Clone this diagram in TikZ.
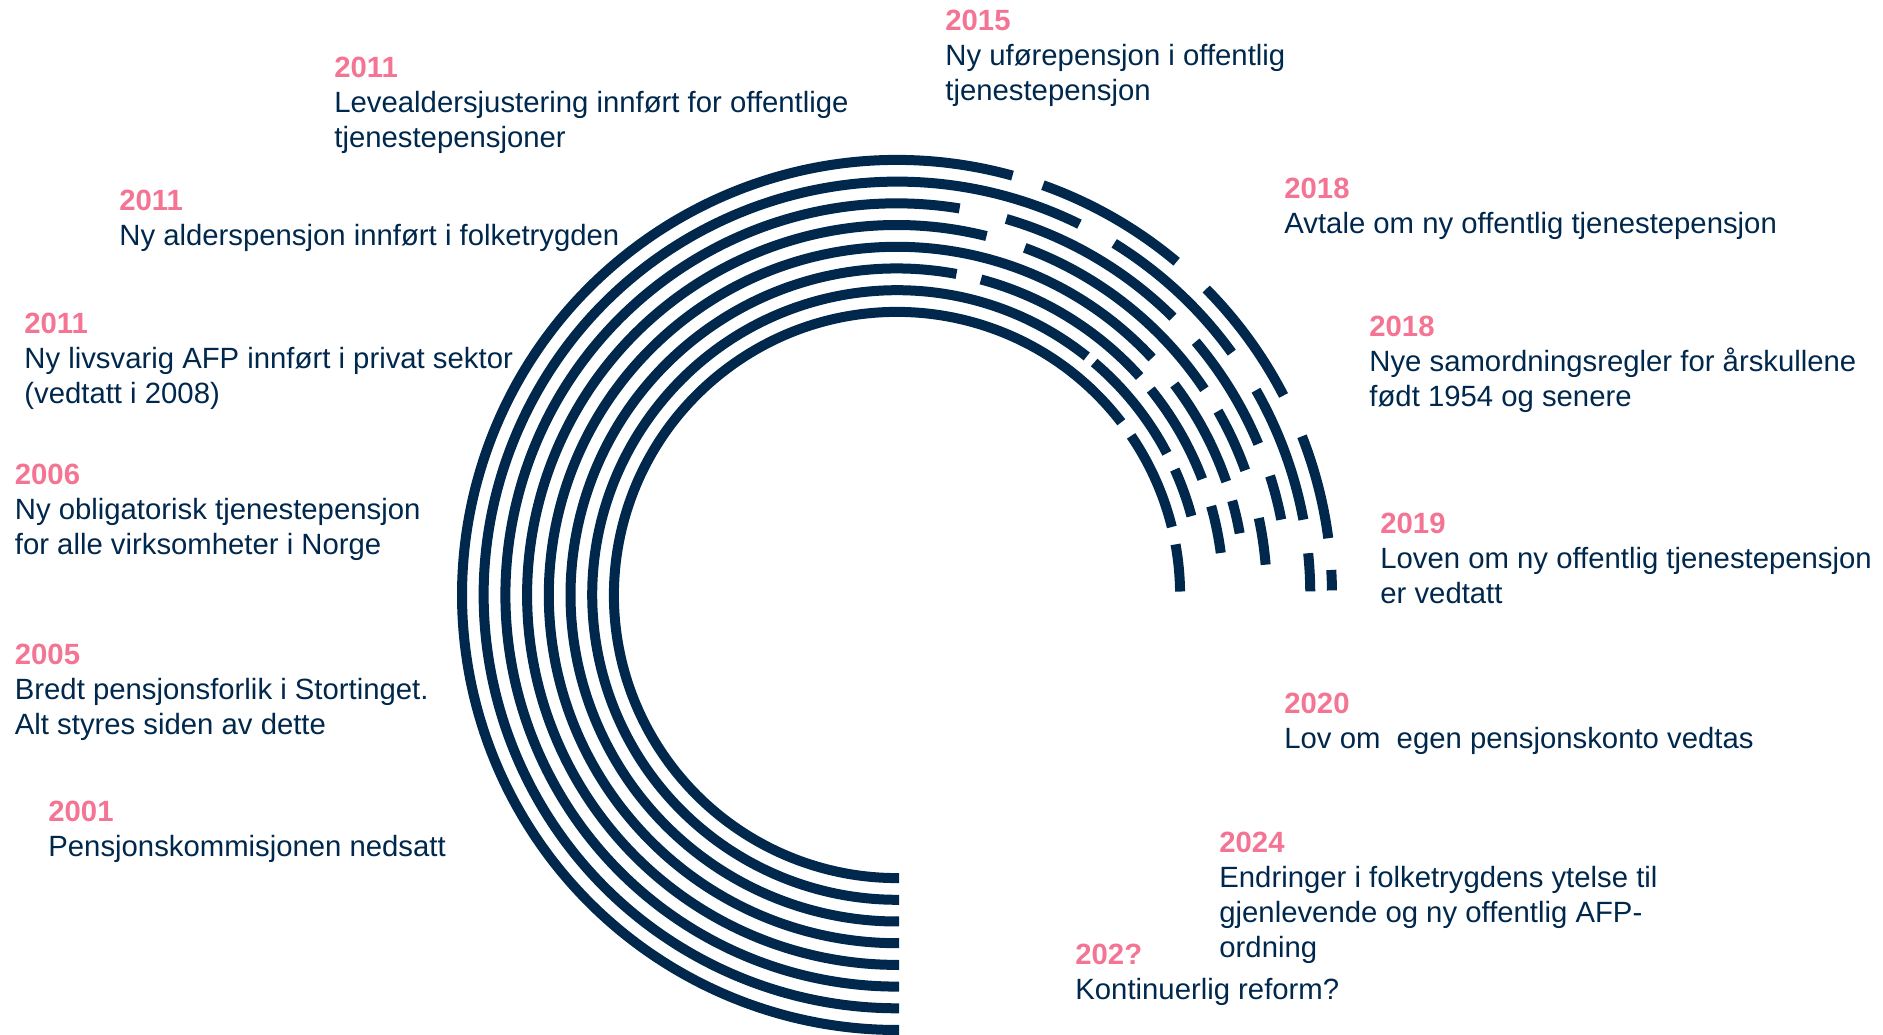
\documentclass[tikz,border=0pt]{standalone}
\usepackage{fontspec}
\setmainfont{Liberation Sans}
\definecolor{navy}{RGB}{0,39,76}
\definecolor{pinky}{RGB}{244,117,147}
\newcommand{\seg}[3]{\draw[ring] (C) ++(#2:#1) arc[start angle=#2, end angle=#3, radius=#1];}
\newcommand{\mainarc}[2]{\draw[ring] (C) ++(#2:#1) arc[start angle=#2, end angle=270, radius=#1] -- ++(2,0);}
\begin{document}
\begin{tikzpicture}[x=1pt,y=1pt,
  ring/.style={line width=10pt, draw=navy, line cap=butt},
  yearst/.style={anchor=base west, inner sep=0pt, text=pinky, font=\fontsize{29.3}{35}\selectfont\bfseries},
  txt/.style={anchor=base west, inner sep=0pt, text=navy, font=\fontsize{29.3}{35}\selectfont}]
\useasboundingbox (0,0) rectangle (1883,1035);
\coordinate (C) at (897,440);
% ring 0
\mainarc{435}{74.6}
\seg{435}{70.4}{50.0}
\seg{435}{44.7}{27.3}
\seg{435}{21.4}{7.5}
\seg{435}{3.3}{0.6}
% ring 1
\mainarc{413.3}{63.8}
\seg{413.3}{58.3}{35.9}
\seg{413.3}{29.7}{10.5}
\seg{413.3}{5.8}{0.5}
% ring 2
\mainarc{391.6}{80.8}
\seg{391.6}{73.8}{45.2}
\seg{391.6}{40.3}{22.7}
\seg{391.6}{17.7}{11.1}
% ring 3
\mainarc{369.9}{76}
\seg{369.9}{69.8}{33.8}
\seg{369.9}{29.8}{19.7}
\seg{369.9}{12}{4.7}
% ring 4
\mainarc{348.2}{42.9}
\seg{348.2}{37.2}{19}
\seg{348.2}{15.7}{10.2}
% ring 5
\mainarc{326.5}{79.5}
\seg{326.5}{75.1}{42}
\seg{326.5}{39}{20.8}
\seg{326.5}{15.8}{7.4}
% ring 6
\mainarc{304.8}{51.5}
\seg{304.8}{49.7}{27.7}
\seg{304.8}{24.3}{15}
% ring 7
\mainarc{283.1}{37.6}
\seg{283.1}{34.2}{13.9}
\seg{283.1}{10.3}{0.7}

% texts
\begin{scope}[xshift=1.2pt]
\node[yearst] (y1) at (333,957.5) {2011};
\node[txt] (t1a) at (333,922.5) {Levealdersjustering innført for offentlige};
\node[txt] (t1b) at (333,887.5) {tjenestepensjoner};

\node[yearst] (y2) at (118,824.2) {2011};
\node[txt] (t2a) at (118,789.2) {Ny alderspensjon innført i folketrygden};

\node[yearst] (y3) at (23,701.7) {2011};
\node[txt] (t3a) at (23,666.7) {Ny livsvarig AFP innført i privat sektor};
\node[txt] (t3b) at (23,631.7) {(vedtatt i 2008)};

\node[yearst] (y4) at (13.5,550.3) {2006};
\node[txt] (t4a) at (13.5,515.3) {Ny obligatorisk tjenestepensjon};
\node[txt] (t4b) at (13.5,480.3) {for alle virksomheter i Norge};

\node[yearst] (y5) at (13.5,370.2) {2005};
\node[txt] (t5a) at (13.5,335.2) {Bredt pensjonsforlik i Stortinget.};
\node[txt] (t5b) at (13.5,300.2) {Alt styres siden av dette};

\node[yearst] (y6) at (47,213) {2001};
\node[txt] (t6a) at (47,178) {Pensjonskommisjonen nedsatt};

\node[yearst] (y7) at (944,1004.5) {2015};
\node[txt] (t7a) at (944,969.5) {Ny uførepensjon i offentlig};
\node[txt] (t7b) at (944,934.5) {tjenestepensjon};

\node[yearst] (y8) at (1283,836.2) {2018};
\node[txt] (t8a) at (1283,801.2) {Avtale om ny offentlig tjenestepensjon};

\node[yearst] (y9) at (1368,698) {2018};
\node[txt] (t9a) at (1368,663) {Nye samordningsregler for årskullene};
\node[txt] (t9b) at (1368,628) {født 1954 og senere};

\node[yearst] (y10) at (1379,501.1) {2019};
\node[txt] (t10a) at (1379,466.1) {Loven om ny offentlig tjenestepensjon};
\node[txt] (t10b) at (1379,431.1) {er vedtatt};

\node[yearst] (y11) at (1283,321) {2020};
\node[txt] (t11a) at (1283,286) {Lov om~~egen pensjonskonto vedtas};

\node[yearst] (y12) at (1218,182.9) {2024};
\node[txt] (t12a) at (1218,147.9) {Endringer i folketrygdens ytelse til};
\node[txt] (t12b) at (1218,112.9) {gjenlevende og ny offentlig AFP-};
\node[txt] (t12c) at (1218,77.9) {ordning};

\node[yearst] (y13) at (1074,70) {202?};
\node[txt] (t13a) at (1074,35) {Kontinuerlig reform?};
\end{scope}
\end{tikzpicture}
\end{document}
